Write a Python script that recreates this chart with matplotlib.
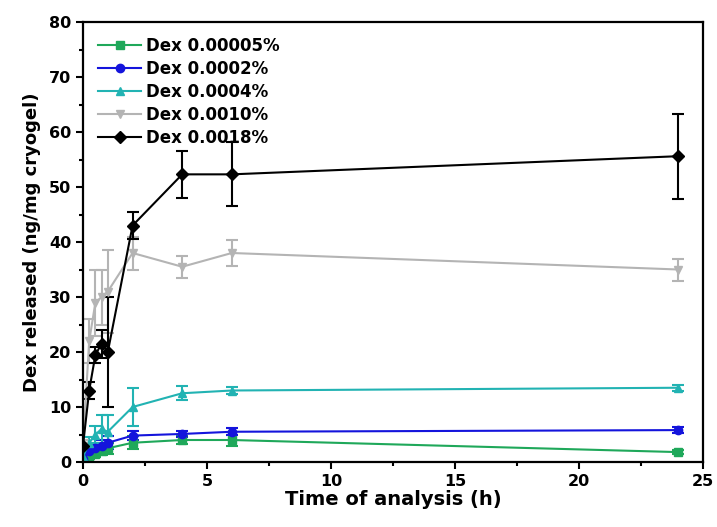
import numpy as np
import matplotlib.pyplot as plt
from matplotlib.ticker import MultipleLocator
from matplotlib.lines import Line2D

# time points (h)
time=[0,0.25,0.5,0.75,1,2,4,6,24]

labels=['Dex 0.00005%','Dex 0.0002%','Dex 0.0004%','Dex 0.0010%','Dex 0.0018%']

dex_00005=[0.3,1.0,1.5,2.0,2.5,3.5,4.0,4.0,1.8]
dex_00005_err=[0.3,0.5,0.6,0.8,1.0,1.2,0.8,1.0,0.4]

dex_0002=[0.5,2.0,2.5,3.0,3.5,4.8,5.1,5.5,5.8]
dex_0002_err=[0.3,0.6,0.8,1.0,1.2,0.8,0.6,0.6,0.5]

dex_0004=[1.0,3.5,5.0,6.0,5.5,10.0,12.5,13.0,13.5]
dex_0004_err=[0.5,1.0,1.5,2.5,3.0,3.5,1.3,0.7,0.5]

dex_0010=[3.0,22.0,29.0,30.0,31.0,38.0,35.5,38.0,35.0]
dex_0010_err=[1.0,4.0,6.0,5.0,7.5,3.0,2.0,2.3,2.0]

dex_0018=[3.0,13.0,19.5,21.5,20.0,43.0,52.3,52.3,55.6]
dex_0018_err=[0.5,1.5,1.5,2.5,10.0,2.5,4.3,5.8,7.7]

series=[dex_00005,dex_0002,dex_0004,dex_0010,dex_0018]
errs=[dex_00005_err,dex_0002_err,dex_0004_err,dex_0010_err,dex_0018_err]
colors=['#1fa85a','#1414dc','#22b3b3','#b4b4b4','#000000']
markers=['s','o','^','v','D']

plt.rcParams['font.family']='DejaVu Sans'
plt.rcParams['font.weight']='bold'

fig=plt.figure(figsize=(7.17,5.27),dpi=100)
ax=fig.add_axes([83/717,1-462/527,620/717,440/527])

handles=[]
for y,e,c,m,l in zip(series,errs,colors,markers,labels):
    ax.errorbar(time,y,yerr=e,color=c,marker=m,markersize=6,linewidth=1.5,
                elinewidth=1.5,capsize=4,capthick=1.5)
    handles.append(Line2D([],[],color=c,marker=m,markersize=6,linewidth=1.5,label=l))

ax.set_xlim(0,25)
ax.set_ylim(0,80)
ax.xaxis.set_major_locator(MultipleLocator(5))
ax.xaxis.set_minor_locator(MultipleLocator(2.5))
ax.yaxis.set_major_locator(MultipleLocator(10))
ax.yaxis.set_minor_locator(MultipleLocator(5))
ax.tick_params(which='both',direction='out',width=1.5,labelsize=11.5)
ax.tick_params(which='major',length=5)
ax.tick_params(which='minor',length=3)
for s in ax.spines.values():
    s.set_linewidth(1.6)
for t in ax.get_xticklabels()+ax.get_yticklabels():
    t.set_fontweight('bold')

ax.set_xlabel('Time of analysis (h)',fontsize=14,fontweight='bold',labelpad=1)
ax.set_ylabel('Dex released (ng/mg cryogel)',fontsize=13,fontweight='bold',labelpad=6)

leg=ax.legend(handles=handles,loc='upper left',frameon=False,fontsize=12,handlelength=2.6,
              labelspacing=0.3,borderaxespad=0.5,handletextpad=0.3)
for t in leg.get_texts():
    t.set_fontweight('bold')

fig.savefig('out.png',dpi=100)
